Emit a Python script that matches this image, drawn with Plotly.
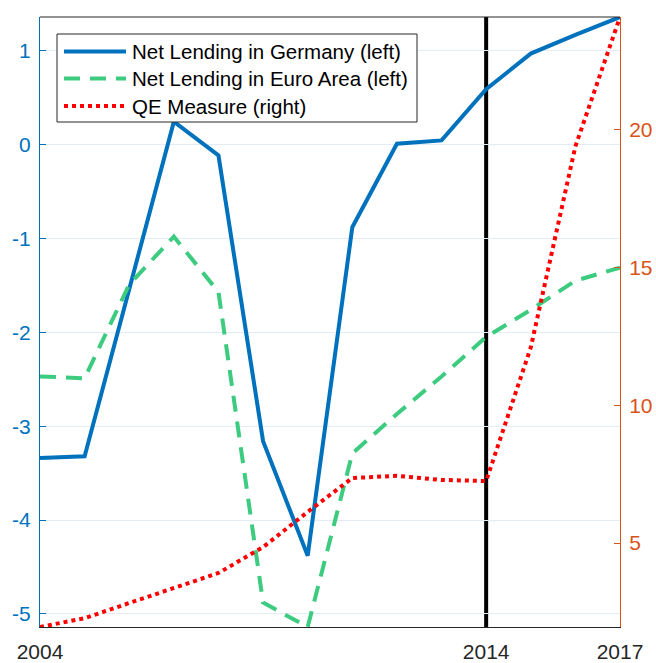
import plotly.graph_objects as go

years = list(range(2004, 2018))
germany = [-3.34, -3.32, -1.54, 0.245, -0.115, -3.16, -4.38, -0.88, 0.01, 0.045, 0.59, 0.97, 1.17, 1.36]
euro_area = [-2.47, -2.49, -1.49, -0.98, -1.57, -4.88, -5.14, -3.29, -2.87, -2.47, -2.05, -1.76, -1.45, -1.31]
qe_measure = [1.95, 2.27, 2.82, 3.36, 3.91, 4.85, 6.13, 7.36, 7.44, 7.29, 7.25, 12.1, 19.4, 24.1]
series_names = ["Net Lending in Germany (left)", "Net Lending in Euro Area (left)", "QE Measure (right)"]
x_ticks = [2004, 2014, 2017]
left_ticks = [-5, -4, -3, -2, -1, 0, 1]
right_ticks = [5, 10, 15, 20]
policy_year = 2014

BLUE = "#0072BD"
GREEN = "#3CCB7F"
RED = "#FF0000"
ORANGE = "#D95319"
DARK = "#262626"
FONT = "Liberation Sans, Arial, sans-serif"

W, H = 656, 663
ML, MR, MT, MB = 40, 36, 17, 36
PW, PH = W - ML - MR, H - MT - MB


def px_x(p):
    return (p - ML) / PW


def px_y(p):
    return (H - MB - p) / PH


styles = [dict(color=BLUE, width=4),
          dict(color=GREEN, width=4, dash="16px,10px"),
          dict(color=RED, width=4, dash="dot")]
axes = ["y", "y", "y2"]
values = [germany, euro_area, qe_measure]

fig = go.Figure()
for name, vals, st, ax in zip(series_names, values, styles, axes):
    fig.add_trace(go.Scatter(x=years, y=vals, mode="lines", name=name,
                             line=st, yaxis=ax, showlegend=False))

fig.add_shape(type="line", xref="x", yref="paper", x0=policy_year, x1=policy_year, y0=0, y1=1,
              line=dict(color="black", width=4), layer="between")
fig.add_shape(type="line", xref="paper", yref="paper", x0=0, x1=1, y0=1, y1=1,
              line=dict(color=DARK, width=1), layer="above")

# legend box (drawn manually to match the original layout)
fig.add_shape(type="rect", xref="paper", yref="paper",
              x0=px_x(57), x1=px_x(417), y0=px_y(122), y1=px_y(34),
              line=dict(color=DARK, width=1), fillcolor="white", layer="above")
row_y = [51.5, 78.5, 106]
for name, st, ry in zip(series_names, styles, row_y):
    fig.add_shape(type="line", xref="paper", yref="paper",
                  x0=px_x(64), x1=px_x(126), y0=px_y(ry), y1=px_y(ry),
                  line=st, layer="above")
    fig.add_annotation(xref="paper", yref="paper", x=px_x(130), y=px_y(ry + 0.5),
                       text=name, showarrow=False, xanchor="left", yanchor="middle",
                       font=dict(family=FONT, size=20.5, color="black"))

fig.update_layout(
    width=W, height=H, autosize=False,
    margin=dict(l=ML, r=MR, t=MT, b=MB, pad=0, autoexpand=False),
    paper_bgcolor="white", plot_bgcolor="white",
    font=dict(family=FONT, size=21, color=DARK),
    showlegend=False,
    xaxis=dict(range=[2004, 2017], tickvals=x_ticks, ticktext=[str(v) for v in x_ticks],
               showgrid=False, zeroline=False, showline=True, linecolor=DARK, linewidth=1,
               ticks="", tickfont=dict(size=21, color=DARK), ticklabelstandoff=6,
               automargin=False),
    yaxis=dict(range=[-5.14, 1.36], tickvals=left_ticks, ticktext=[str(v) for v in left_ticks],
               showgrid=True, gridcolor="#e3ecf5", gridwidth=1, zeroline=False,
               showline=True, linecolor=BLUE, linewidth=1,
               ticks="inside", ticklen=6, tickcolor=BLUE,
               tickfont=dict(size=21, color=BLUE), ticklabelstandoff=4, automargin=False),
    yaxis2=dict(range=[1.95, 24.1], tickvals=right_ticks, ticktext=[str(v) for v in right_ticks],
                overlaying="y", side="right", showgrid=False, zeroline=False,
                showline=True, linecolor=ORANGE, linewidth=1,
                ticks="inside", ticklen=6, tickcolor=ORANGE,
                tickfont=dict(size=21, color=ORANGE), ticklabelstandoff=4, automargin=False),
)

fig.write_html("out.html", config={"displayModeBar": False},
               post_script="document.body.style.margin='0';document.body.style.overflow='hidden';")
